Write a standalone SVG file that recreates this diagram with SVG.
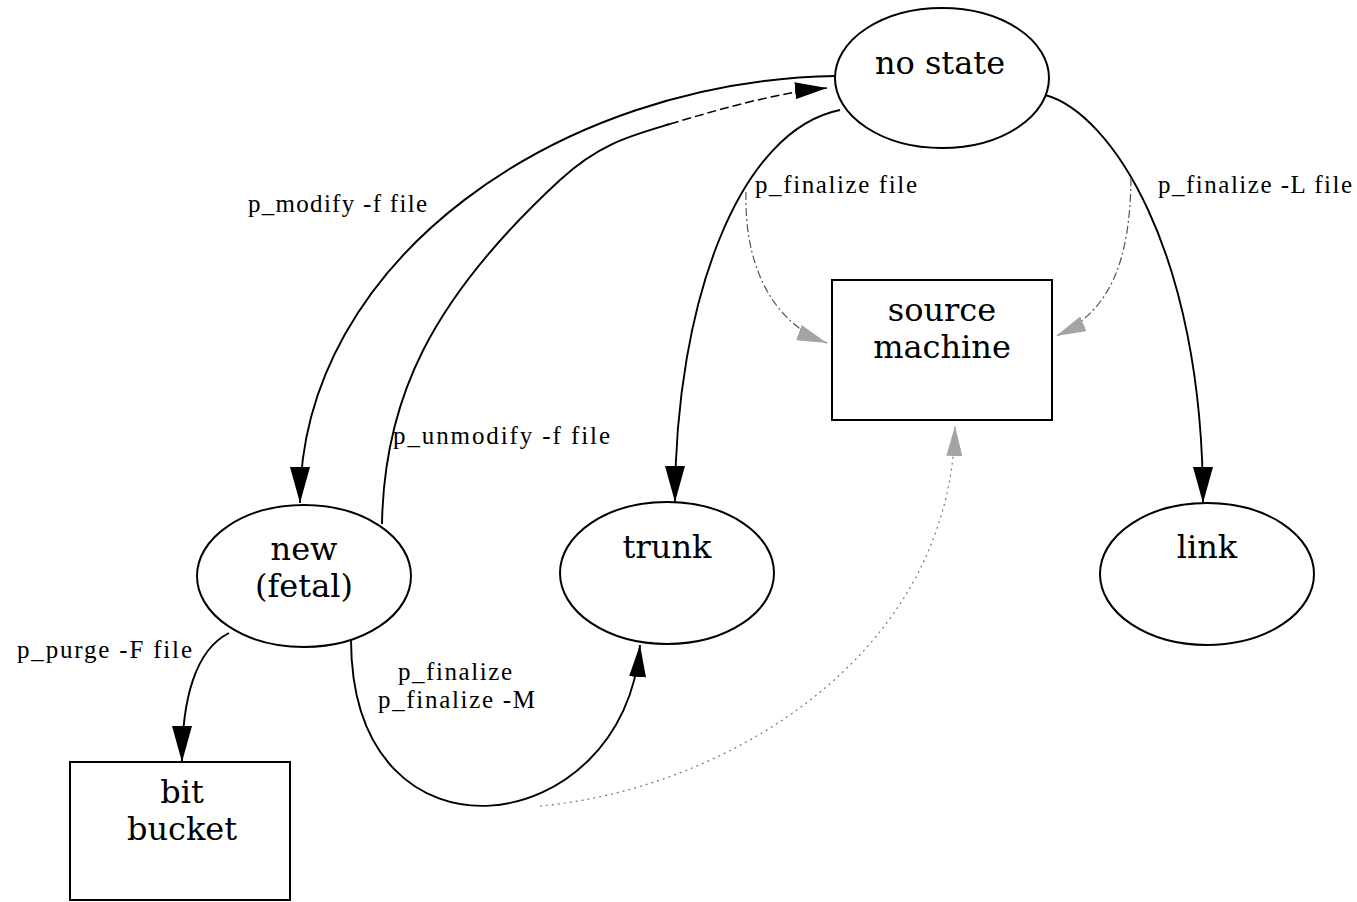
<svg xmlns="http://www.w3.org/2000/svg" width="1357" height="902" viewBox="0 0 1357 902">
  <style>
    .node { fill: #fff; stroke: #000; stroke-width: 2; }
    .ntext { font-family: "DejaVu Serif", "Liberation Serif", serif; font-size: 32px; fill: #000; text-anchor: middle; }
    .elabel { font-family: "Liberation Serif", "Times New Roman", serif; font-size: 25px; fill: #000; }
    .edge { fill: none; stroke: #000; stroke-width: 1.9; }
    .edge-dash { fill: none; stroke: #000; stroke-width: 1.5; stroke-dasharray: 9 4; }
    .edge-dashdot { fill: none; stroke: #555; stroke-width: 1.2; stroke-dasharray: 8 3 2 3; }
    .edge-dot { fill: none; stroke: #777; stroke-width: 1.2; stroke-dasharray: 2 4; }
  </style>
  <defs>
    <marker id="arrow" markerUnits="userSpaceOnUse" viewBox="0 0 36 20" markerWidth="36" markerHeight="20" refX="36" refY="10" orient="auto">
      <path d="M0,0 L36,10 L0,20 z" fill="#000"/>
    </marker>
    <marker id="arrow-small" markerUnits="userSpaceOnUse" viewBox="0 0 32 17" markerWidth="32" markerHeight="17" refX="32" refY="8.5" orient="auto">
      <path d="M0,0 L32,8.5 L0,17 z" fill="#000"/>
    </marker>
    <marker id="arrow-gray" markerUnits="userSpaceOnUse" viewBox="0 0 30 16" markerWidth="30" markerHeight="16" refX="30" refY="8" orient="auto">
      <path d="M0,0 L30,8 L0,16 z" fill="#a4a4a4"/>
    </marker>
  </defs>

  <rect width="1357" height="902" fill="#fff"/>

  <!-- connectors -->
  <g id="connectors">
    <!-- p_modify -f file : no state -> new -->
    <path class="edge" marker-end="url(#arrow)" d="M836,76 C560,80 300,260 300,503"/>
    <!-- p_unmodify -f file : new -> no state -->
    <g id="edge-unmodify">
      <path class="edge" d="M382,524 C384,400 430,300 560,180 C600,143 633,135 670,124"/>
      <path class="edge-dash" marker-end="url(#arrow-small)" d="M670,124 C720,109 780,92 827,88"/>
    </g>
    <!-- p_finalize file : no state -> trunk -->
    <path class="edge" marker-end="url(#arrow)" d="M840,110 C740,130 675,300 675,502"/>
    <!-- p_finalize -L file : no state -> link -->
    <path class="edge" marker-end="url(#arrow)" d="M1045,95 C1110,112 1203,250 1203,503"/>
    <!-- copies to the source machine -->
    <path class="edge-dashdot" marker-end="url(#arrow-gray)" d="M746,192 C744,262 770,322 827,343"/>
    <path class="edge-dashdot" marker-end="url(#arrow-gray)" d="M1131,178 C1130,262 1110,312 1056,336"/>
    <!-- p_finalize : new -> trunk -->
    <path class="edge" marker-end="url(#arrow-small)" d="M351,640 C352,880 625,840 640,645"/>
    <path class="edge-dot" marker-end="url(#arrow-gray)" d="M540,806 C720,790 950,660 955,426"/>
    <!-- p_purge -F file : new -> bit bucket -->
    <path class="edge" marker-end="url(#arrow)" d="M229,633 C195,650 182,700 182,762"/>

    <!-- edge labels -->
    <text class="elabel" x="248" y="212" textLength="179" lengthAdjust="spacing">p_modify -f file</text>
    <text class="elabel" x="393" y="444" textLength="217" lengthAdjust="spacing">p_unmodify -f file</text>
    <text class="elabel" x="755" y="193" textLength="162" lengthAdjust="spacing">p_finalize file</text>
    <text class="elabel" x="1158" y="193" textLength="194" lengthAdjust="spacing">p_finalize -L file</text>
    <text class="elabel" x="17" y="658" textLength="175" lengthAdjust="spacing">p_purge -F file</text>
    <text class="elabel" x="398" y="680" textLength="114" lengthAdjust="spacing">p_finalize</text>
    <text class="elabel" x="378" y="708" textLength="157" lengthAdjust="spacing">p_finalize -M</text>
  </g>

  <!-- nodes -->
  <g id="node-no-state">
    <ellipse class="node" cx="942" cy="78" rx="107" ry="70"/>
    <text class="ntext" x="940" y="74">no state</text>
  </g>
  <g id="node-source-machine">
    <rect class="node" x="832" y="280" width="220" height="140"/>
    <text class="ntext" x="942" y="321">source</text>
    <text class="ntext" x="942" y="358">machine</text>
  </g>
  <g id="node-new">
    <ellipse class="node" cx="304" cy="576" rx="107" ry="71"/>
    <text class="ntext" x="304" y="560">new</text>
    <text class="ntext" x="304" y="597">(fetal)</text>
  </g>
  <g id="node-trunk">
    <ellipse class="node" cx="667" cy="573" rx="107" ry="71"/>
    <text class="ntext" x="667" y="558">trunk</text>
  </g>
  <g id="node-link">
    <ellipse class="node" cx="1207" cy="574" rx="107" ry="71"/>
    <text class="ntext" x="1207" y="558">link</text>
  </g>
  <g id="node-bit-bucket">
    <rect class="node" x="70" y="762" width="220" height="138"/>
    <text class="ntext" x="182" y="803">bit</text>
    <text class="ntext" x="182" y="840">bucket</text>
  </g>
</svg>
